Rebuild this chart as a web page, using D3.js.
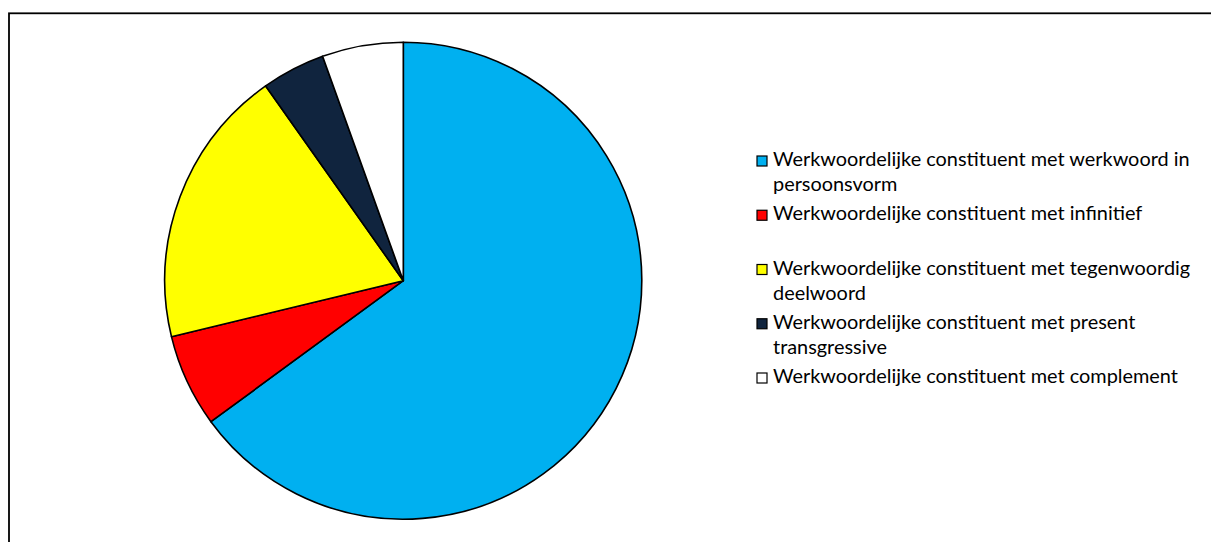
<!DOCTYPE html>
<html>
<head>
<meta charset="utf-8">
<script src="https://cdn.jsdelivr.net/npm/d3@7"></script>
<style>
  html, body { margin: 0; padding: 0; background: #fff; }
  svg { display: block; }
  text { font-family: Lato, "Open Sans", sans-serif; fill: #000; }
</style>
</head>
<body>
<svg id="chart" width="1211" height="542"></svg>
<script>
// Verb-constituent types and their share (%) of all constituents
const categories = [
  "Werkwoordelijke constituent met werkwoord in persoonsvorm",
  "Werkwoordelijke constituent met infinitief",
  "Werkwoordelijke constituent met tegenwoordig deelwoord",
  "Werkwoordelijke constituent met present transgressive",
  "Werkwoordelijke constituent met complement"
];
const shares = [65.0, 6.3, 19.0, 4.3, 5.5];
const colors = ["#00B0F0", "#FF0000", "#FFFF00", "#10243E", "#FFFFFF"];

const W = 1211, H = 542;
const svg = d3.select("#chart");

// outer chart frame
svg.append("rect")
  .attr("x", 9).attr("y", 13.3)
  .attr("width", W + 10).attr("height", H + 10)
  .attr("fill", "#fff").attr("stroke", "#000").attr("stroke-width", 1.8);

// pie
const cx = 403.3, cy = 280.7, radius = 238.5;
const data = categories.map((c, i) => ({ label: c, value: shares[i], color: colors[i] }));
const pie = d3.pie().value(d => d.value).sort(null);
const arc = d3.arc().innerRadius(0).outerRadius(radius);

svg.append("g")
  .attr("transform", `translate(${cx},${cy})`)
  .selectAll("path")
  .data(pie(data))
  .join("path")
  .attr("d", arc)
  .attr("fill", d => d.data.color)
  .attr("stroke", "#000")
  .attr("stroke-width", 1.6)
  .attr("stroke-linejoin", "round");

// legend
const legendX = 757, textX = 773, wrapWidth = 428, lineH = 25;
const y = d3.scalePoint().domain(categories).range([166, 383]);

// size the legend font so the first label line spans its column
const probe = svg.append("text").attr("font-size", 100)
  .text("Werkwoordelijke constituent met werkwoord in");
const fontSize = 100 * 417 / probe.node().getComputedTextLength();
probe.remove();

function wrapLines(str) {
  const words = str.split(" ");
  const lines = [];
  let cur = "";
  const t = svg.append("text").attr("font-size", fontSize);
  for (const w of words) {
    const test = cur ? cur + " " + w : w;
    t.text(test);
    if (t.node().getComputedTextLength() > wrapWidth && cur) {
      lines.push(cur);
      cur = w;
    } else {
      cur = test;
    }
  }
  lines.push(cur);
  t.remove();
  return lines;
}

const items = svg.append("g").selectAll("g")
  .data(data)
  .join("g");

items.append("rect")
  .attr("x", legendX)
  .attr("y", d => y(d.label) - 10)
  .attr("width", 10).attr("height", 10)
  .attr("fill", d => d.color)
  .attr("stroke", "#000").attr("stroke-width", 1.2);

items.append("text")
  .attr("font-size", fontSize)
  .attr("x", textX)
  .attr("y", d => y(d.label))
  .each(function (d) {
    const sel = d3.select(this);
    wrapLines(d.label).forEach((ln, i) => {
      sel.append("tspan")
        .attr("x", textX)
        .attr("y", y(d.label) + i * lineH)
        .text(ln);
    });
  });
</script>
</body>
</html>
